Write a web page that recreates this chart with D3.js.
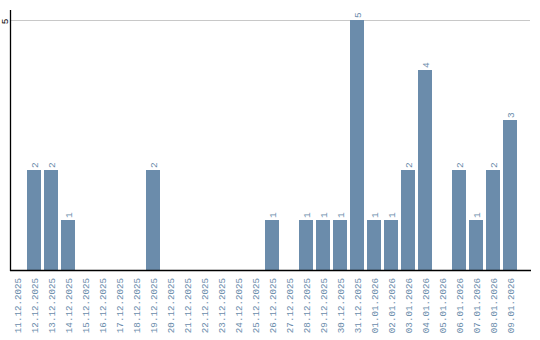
<!DOCTYPE html>
<html>
<head>
<meta charset="utf-8">
<script src="https://cdn.jsdelivr.net/npm/d3@7"></script>
<style>
html, body { margin: 0; padding: 0; background: #fff; }
svg { display: block; }
</style>
</head>
<body>
<svg id="chart" width="540" height="340"></svg>
<script>
const categories = ["11.12.2025","12.12.2025","13.12.2025","14.12.2025","15.12.2025","16.12.2025","17.12.2025","18.12.2025","19.12.2025","20.12.2025","21.12.2025","22.12.2025","23.12.2025","24.12.2025","25.12.2025","26.12.2025","27.12.2025","28.12.2025","29.12.2025","30.12.2025","31.12.2025","01.01.2026","02.01.2026","03.01.2026","04.01.2026","05.01.2026","06.01.2026","07.01.2026","08.01.2026","09.01.2026"];
const values = [0,2,2,1,0,0,0,0,2,0,0,0,0,0,0,1,0,1,1,1,5,1,1,2,4,0,2,1,2,3];
const yTicks = [5];

(function () {
const barColor = "#6b8cab";
const font = "'Liberation Mono', 'Courier New', monospace";

const svg = d3.select("#chart");
const mLeft = 10, mBottom = 270, mTop = 20, axisRight = 531;

const x = d3.scaleBand().domain(categories).range([mLeft, 517]).paddingInner(3/17).paddingOuter(0);
const y = d3.scaleLinear().domain([0, 5]).range([mBottom, mTop]);

// gridline
svg.append("g").selectAll("line").data(yTicks).join("line")
  .attr("x1", mLeft + 1).attr("x2", axisRight - 1)
  .attr("y1", d => y(d) + 0.5).attr("y2", d => y(d) + 0.5)
  .attr("stroke", "#c8c8c8").attr("stroke-width", 1);

// bars
svg.append("g").selectAll("rect").data(values).join("rect")
  .attr("x", (d, i) => x(categories[i]))
  .attr("width", x.bandwidth())
  .attr("y", d => y(d))
  .attr("height", d => mBottom - y(d))
  .attr("fill", barColor);

// value labels
svg.append("g").selectAll("text").data(values.map((v, i) => ({v, c: categories[i]})).filter(d => d.v > 0)).join("text")
  .attr("transform", d => `translate(${x(d.c) + x.bandwidth()/2 + 3.5},${y(d.v) - 2}) rotate(-90)`)
  .attr("text-anchor", "start")
  .attr("font-family", font).attr("font-size", 9.5)
  .attr("fill", barColor)
  .text(d => d.v);

// x axis
const xAxis = d3.axisBottom(x).tickSize(0).tickPadding(0);
const gx = svg.append("g").attr("transform", `translate(0,${mBottom})`).call(xAxis);
gx.select(".domain").remove();
gx.selectAll("text")
  .attr("font-family", font).attr("font-size", 9.2)
  .attr("fill", barColor)
  .attr("text-anchor", "end")
  .attr("dy", null)
  .attr("transform", "translate(4,8) rotate(-90)")
  .attr("y", 0).attr("x", 0);

svg.append("line").attr("x1", mLeft).attr("x2", axisRight).attr("y1", mBottom + 0.5).attr("y2", mBottom + 0.5)
  .attr("stroke", "#000").attr("stroke-width", 1.3);

// y axis
const yAxis = d3.axisLeft(y).tickValues(yTicks).tickFormat(d3.format("d")).tickSize(0).tickPadding(0);
const gy = svg.append("g").attr("transform", `translate(${mLeft},0)`).call(yAxis);
gy.select(".domain").remove();
gy.selectAll("text")
  .attr("font-family", font).attr("font-size", 9.5)
  .attr("fill", "#000")
  .attr("text-anchor", "middle")
  .attr("dy", null)
  .attr("x", 0).attr("y", 0)
  .attr("transform", "translate(-2,1) rotate(-90)");

svg.append("line").attr("x1", mLeft + 0.5).attr("x2", mLeft + 0.5).attr("y1", 10).attr("y2", mBottom + 1)
  .attr("stroke", "#000").attr("stroke-width", 1.3);
})();
</script>
</body>
</html>
